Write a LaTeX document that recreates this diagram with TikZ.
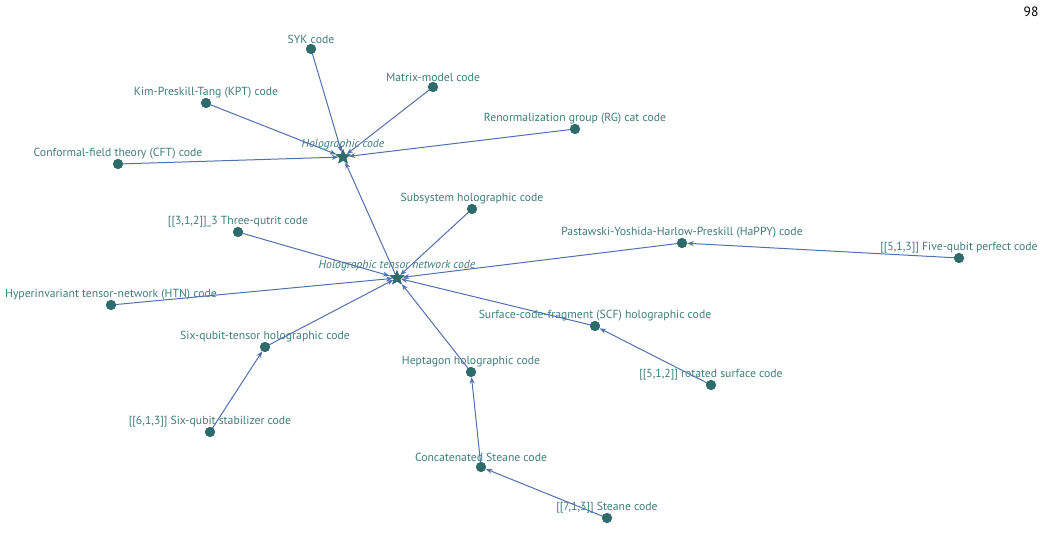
\documentclass[tikz,border=0pt]{standalone}
\usepackage{fontspec}
\setmainfont{PT Sans}
\usetikzlibrary{shapes.geometric,arrows.meta}
\definecolor{dotc}{HTML}{2E6B6B}
\definecolor{txtc}{HTML}{3F7C7C}
\definecolor{edgec}{HTML}{5070B0}
\tikzset{
  dot/.style={circle,fill=dotc,draw=none,inner sep=0pt,minimum size=10pt},
  hub/.style={star,star points=5,star point ratio=2.3,fill=dotc,draw=none,inner sep=0pt,minimum size=16pt},
  lbl/.style={text=txtc,font=\fontsize{11.7}{13}\selectfont,inner sep=1pt,label distance=-1.5pt},
  hlbl/.style={text=txtc,font=\fontsize{11.7}{13}\selectfont\itshape,inner sep=1pt,label distance=-3pt},
  edge/.style={draw=edgec,line width=1pt,-{Stealth[length=6.5pt,width=5pt]}},
}
\begin{document}
\begin{tikzpicture}[x=1pt,y=-1pt]
\useasboundingbox (0,0) rectangle (1045,537);
% hubs
\node[hub,label={[hlbl]above:Holographic code}] (hol) at (343,157) {};
\node[hub,label={[hlbl]above:Holographic tensor network code}] (htn) at (397,278) {};
% leaves
\node[dot,label={[lbl]above:SYK code}] (syk) at (311,49) {};
\node[dot,label={[lbl]above:Matrix-model code}] (mat) at (433,87) {};
\node[dot,label={[lbl]above:Kim-Preskill-Tang (KPT) code}] (kpt) at (206,103) {};
\node[dot,label={[lbl]above:Renormalization group (RG) cat code}] (rg) at (575,129) {};
\node[dot,label={[lbl]above:Conformal-field theory (CFT) code}] (cft) at (118,164) {};
\node[dot,label={[lbl]above:Subsystem holographic code}] (sub) at (472,209) {};
\node[dot,label={[lbl]above:{[[3,1,2]]\_3 Three-qutrit code}}] (qut) at (238,232) {};
\node[dot,label={[lbl]above:Pastawski-Yoshida-Harlow-Preskill (HaPPY) code}] (happy) at (682,243) {};
\node[dot,label={[lbl]above:{[[5,1,3]] Five-qubit perfect code}}] (five) at (959,258) {};
\node[dot,label={[lbl]above:Hyperinvariant tensor-network (HTN) code}] (hyp) at (111,305) {};
\node[dot,label={[lbl]above:Surface-code-fragment (SCF) holographic code}] (scf) at (595,326) {};
\node[dot,label={[lbl]above:Six-qubit-tensor holographic code}] (six) at (265,347) {};
\node[dot,label={[lbl]above:Heptagon holographic code}] (hep) at (471,372) {};
\node[dot,label={[lbl]above:{[[5,1,2]] rotated surface code}}] (rot) at (711,385) {};
\node[dot,label={[lbl]above:{[[6,1,3]] Six-qubit stabilizer code}}] (sixs) at (210,432) {};
\node[dot,label={[lbl]above:Concatenated Steane code}] (cat) at (481,467) {};
\node[dot,label={[lbl]above:{[[7,1,3]] Steane code}}] (ste) at (607,518) {};
\node[font=\fontsize{13.5}{15}\selectfont,text=black] (pg) at (1031,12) {98};
% edges
\path[edge] (syk.center) -- (hol);
\path[edge] (mat.center) -- (hol);
\path[edge] (kpt.center) -- (hol);
\path[edge] (rg.center) -- (hol);
\path[edge] (cft.center) -- (hol);
\path[edge] (htn.center) -- (hol);
\path[edge] (sub.center) -- (htn);
\path[edge] (qut.center) -- (htn);
\path[edge] (happy.center) -- (htn);
\path[edge] (hyp.center) -- (htn);
\path[edge] (scf.center) -- (htn);
\path[edge] (six.center) -- (htn);
\path[edge] (hep.center) -- (htn);
\path[edge] (five.center) -- (happy);
\path[edge] (rot.center) -- (scf);
\path[edge] (sixs.center) -- (six);
\path[edge] (cat.center) -- (hep);
\path[edge] (ste.center) -- (cat);
% redraw dots on top
\foreach \n in {syk,mat,kpt,rg,cft,sub,qut,happy,five,hyp,scf,six,hep,rot,sixs,cat,ste}
  \fill[dotc] (\n.center) circle (5pt);
\foreach \n in {hol,htn}
  \node[hub] at (\n.center) {};
\end{tikzpicture}
\end{document}
